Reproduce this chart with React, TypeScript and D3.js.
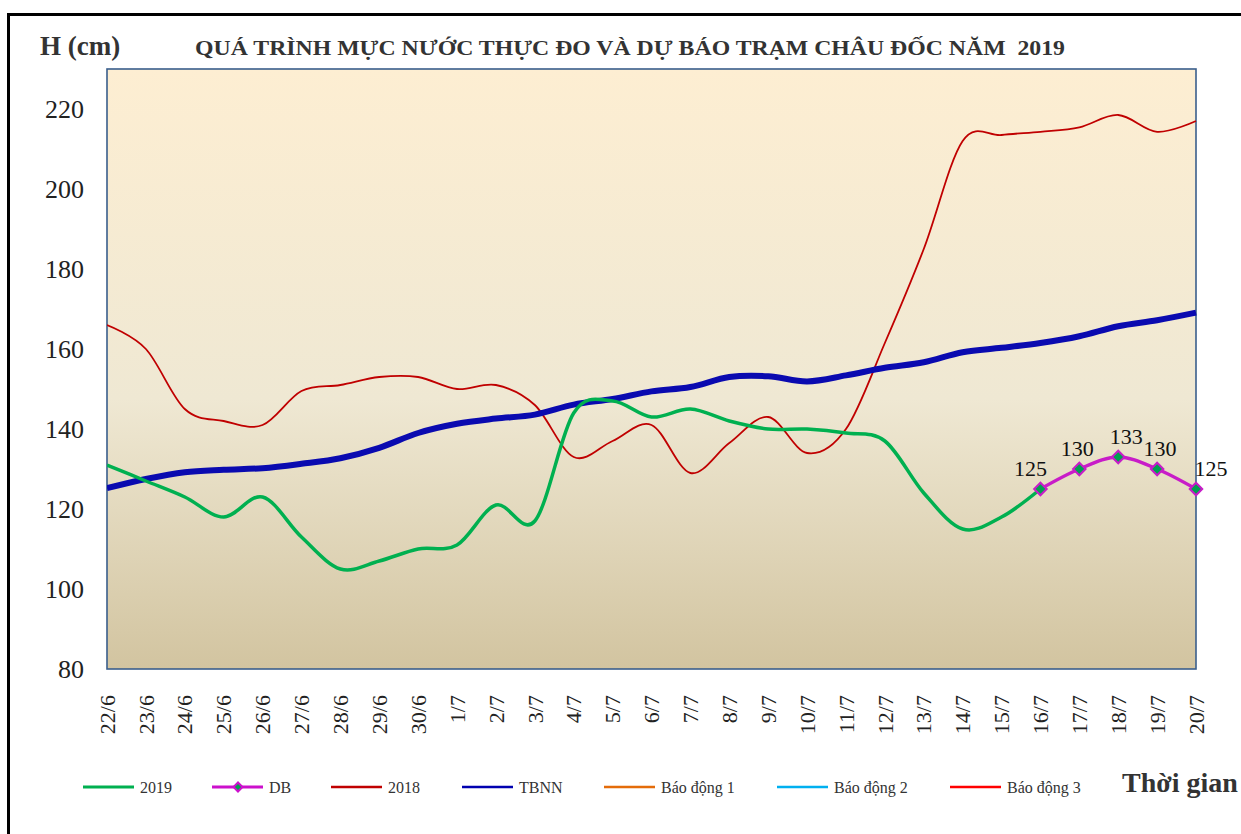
import React from 'react';
import * as d3 from 'd3';

// categories (ngày)
const dates = [
  '22/6', '23/6', '24/6', '25/6', '26/6', '27/6', '28/6', '29/6', '30/6',
  '1/7', '2/7', '3/7', '4/7', '5/7', '6/7', '7/7', '8/7', '9/7', '10/7',
  '11/7', '12/7', '13/7', '14/7', '15/7', '16/7', '17/7', '18/7', '19/7', '20/7',
];

// thực đo 2019 (22/6 -> 16/7)
const h2019 = [131, 127, 123, 118, 123, 113, 105, 107, 110, 111, 121, 117, 144,
  147, 143, 145, 142, 140, 140, 139, 137, 124, 115, 118, 125];

// dự báo (16/7 -> 20/7)
const dbDates = ['16/7', '17/7', '18/7', '19/7', '20/7'];
const dbValues = [125, 130, 133, 130, 125];

const h2018 = [166, 160, 145, 142, 141, 149.5, 151, 153, 153, 150, 151, 146, 133,
  137, 141, 129, 136.5, 143, 134, 140, 161.5, 185, 212, 213.5, 214.3, 215.4, 218.5, 214.3, 217];

const tbnn = [125.2, 127.5, 129.2, 129.8, 130.2, 131.3, 132.7, 135.3, 139, 141.3, 142.6,
  143.6, 146.1, 147.5, 149.4, 150.5, 153, 153.2, 151.9, 153.4, 155.3, 156.7, 159.2,
  160.3, 161.5, 163.2, 165.7, 167.2, 169.1];

// mức báo động trạm Châu Đốc (ngoài khung hình)
const bd1 = 350;
const bd2 = 400;
const bd3 = 450;

const yTicks = [80, 100, 120, 140, 160, 180, 200, 220];

const serif = '"Liberation Serif", "Times New Roman", serif';

const App = () => {
  const width = 1241;
  const height = 834;
  const plot = { left: 107, right: 1196, top: 69, bottom: 669 };

  const x = d3.scalePoint<string>().domain(dates).range([plot.left, plot.right]);
  const y = d3.scaleLinear().domain([80, 230]).range([plot.bottom, plot.top]);

  const line = d3.line<[string, number]>()
    .x(d => x(d[0]) as number)
    .y(d => y(d[1]))
    .curve(d3.curveCardinal.tension(0));

  const s2019 = h2019.map((v, i) => [dates[i], v] as [string, number]);
  const sDB = dbValues.map((v, i) => [dbDates[i], v] as [string, number]);
  const s2018 = h2018.map((v, i) => [dates[i], v] as [string, number]);
  const sTB = tbnn.map((v, i) => [dates[i], v] as [string, number]);
  const alarm = (v: number) => dates.map(d => [d, v] as [string, number]);

  // diamond = square rotated 45deg
  const diamond = d3.symbol().type(d3.symbolSquare).size(78)() as string;
  const legDiamond = d3.symbol().type(d3.symbolSquare).size(40)() as string;
  const labelDx = [-10, -2, 8, 3, 15];

  const legend = [
    { name: '2019', color: '#00B050', w: 3, x: 83 },
    { name: 'DB', color: '#CC10CC', w: 3, x: 212, marker: true },
    { name: '2018', color: '#C00000', w: 2.5, x: 331 },
    { name: 'TBNN', color: '#0000B0', w: 2.5, x: 462 },
    { name: 'Báo động 1', color: '#E46C0A', w: 2.5, x: 604 },
    { name: 'Báo động 2', color: '#00B0F0', w: 2.5, x: 777 },
    { name: 'Báo động 3', color: '#FF0000', w: 2.5, x: 950 },
  ];
  const legY = 787;

  return (
    <svg width={width} height={height}
      style={{ position: 'absolute', left: 0, top: 0, background: '#fff', fontFamily: serif }}>
      <defs>
        <linearGradient id="bg" x1="0" y1="0" x2="0" y2="1">
          <stop offset="0%" stopColor="#FDEED2" />
          <stop offset="55%" stopColor="#EFE8D3" />
          <stop offset="100%" stopColor="#D2C4A0" />
        </linearGradient>
        <clipPath id="plotClip">
          <rect x={plot.left} y={plot.top - 4} width={plot.right - plot.left + 2} height={plot.bottom - plot.top + 4} />
        </clipPath>
      </defs>

      <rect x={8.5} y={14.5} width={1400} height={1000} fill="none" stroke="#000" strokeWidth={3} />

      <text x={40} y={55} fontSize={27} fontWeight="bold" fill="#333">H (cm)</text>
      <text x={195} y={55} fontSize={21} fontWeight="bold" fill="#333"
        textLength={870} lengthAdjust="spacingAndGlyphs" style={{ whiteSpace: 'pre' }}>
        QUÁ TRÌNH MỰC NƯỚC THỰC ĐO VÀ DỰ BÁO TRẠM CHÂU ĐỐC NĂM  2019
      </text>

      <rect x={plot.left} y={plot.top} width={plot.right - plot.left} height={plot.bottom - plot.top}
        fill="url(#bg)" stroke="#3A5E8C" strokeWidth={1.6} />

      {yTicks.map(t => (
        <text key={t} x={84} y={y(t)} dy="0.35em" textAnchor="end" fontSize={26} fill="#222">{t}</text>
      ))}

      {dates.map(d => (
        <text key={d} transform={`translate(${x(d)},695) rotate(-90)`} textAnchor="end"
          dy="0.35em" fontSize={22} fill="#222">{d}</text>
      ))}

      <g clipPath="url(#plotClip)" fill="none">
        <path d={line(alarm(bd1)) as string} stroke="#E46C0A" strokeWidth={2} />
        <path d={line(alarm(bd2)) as string} stroke="#00B0F0" strokeWidth={2} />
        <path d={line(alarm(bd3)) as string} stroke="#FF0000" strokeWidth={2} />
        <path d={line(s2018) as string} stroke="#C00000" strokeWidth={1.8} />
        <path d={line(sTB) as string} stroke="#0A0AB0" strokeWidth={6} />
        <path d={line(s2019) as string} stroke="#00B050" strokeWidth={3.5} />
      </g>

      <path d={line(sDB) as string} fill="none" stroke="#C81CC8" strokeWidth={3.5} />
      {sDB.map((p, i) => (
        <g key={p[0]}>
          <path d={diamond} transform={`translate(${x(p[0])},${y(p[1])}) rotate(45)`}
            fill="#00A050" stroke="#C81CC8" strokeWidth={2} />
          <text x={(x(p[0]) as number) + labelDx[i]} y={y(p[1]) - 13} textAnchor="middle"
            fontSize={22} fill="#111">{p[1]}</text>
        </g>
      ))}

      {legend.map(l => (
        <g key={l.name}>
          <line x1={l.x} x2={l.x + 51} y1={legY} y2={legY} stroke={l.color} strokeWidth={l.w} />
          {l.marker && (
            <path d={legDiamond} transform={`translate(${l.x + 26},${legY}) rotate(45)`}
              fill="#00A050" stroke={l.color} strokeWidth={2} />
          )}
          <text x={l.x + 57} y={legY + 6} fontSize={16} fill="#333">{l.name}</text>
        </g>
      ))}

      <text x={1122} y={792} fontSize={28} fontWeight="bold" fill="#333">Thời gian</text>
    </svg>
  );
};

export default App;
